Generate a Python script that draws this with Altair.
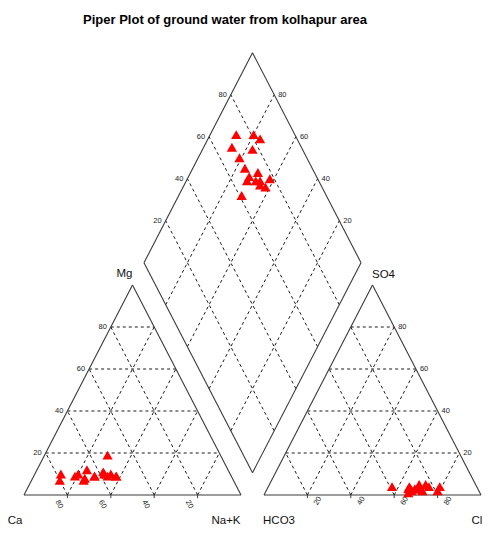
import altair as alt
import pandas as pd

# ---------------- data (percent of meq) ----------------
mg   = [10, 10, 7, 7, 12, 9, 8, 9, 11, 9, 9, 10, 10, 9, 19, 9]
nak  = [12, 20, 24, 13, 23, 19, 24, 28, 31, 38, 28, 32, 35, 38, 29, 34]
ca   = [100 - m - n for m, n in zip(mg, nak)]
so4  = [3, 2, 4, 3, 5, 2, 4, 3, 5, 4, 1, 3, 3, 2, 4, 3]
hco3 = [27, 19, 17, 32, 23, 31, 31, 31, 26, 22, 33, 29, 28, 26, 39, 27]
cl   = [100 - s - h for s, h in zip(so4, hco3)]

grid_levels = [20, 40, 60, 80]
title_text = "Piper Plot of ground water from kolhapur area"
corner_names = ["Ca", "Na+K", "Mg", "HCO3", "Cl", "SO4"]

# ---------------- geometry (unit side, unit height) ----------------
G = 0.106          # gap between the triangles
X0 = 1 + G         # left corner of anion triangle
W, H = 474, 520
PX_X, PX_Y = 217.0, 210.0
ORX, ORY = 24.0 - 8, 495.0 - 8   # position of unit origin inside plot area
xdom = [-ORX / PX_X, (W - ORX) / PX_X]
ydom = [(ORY - H) / PX_Y, ORY / PX_Y]

def seg(rows, a, b, kind):
    rows.append(dict(x=a[0], y=a[1], x2=b[0], y2=b[1], kind=kind))

segs = []
# outlines
for a, b in [((0, 0), (1, 0)), ((1, 0), (0.5, 1)), ((0.5, 1), (0, 0)),
             ((X0, 0), (X0 + 1, 0)), ((X0 + 1, 0), (X0 + 0.5, 1)), ((X0 + 0.5, 1), (X0, 0)),
             ((1 + G / 2, G), (1.5 + G / 2, 1 + G)), ((1.5 + G / 2, 1 + G), (1 + G / 2, 2 + G)),
             ((1 + G / 2, 2 + G), (0.5 + G / 2, 1 + G)), ((0.5 + G / 2, 1 + G), (1 + G / 2, G))]:
    seg(segs, a, b, "outline")

for lv in grid_levels:
    p = lv / 100
    # cation
    seg(segs, (p / 2, p), (1 - p / 2, p), "grid")
    seg(segs, (p, 0), ((1 + p) / 2, 1 - p), "grid")
    seg(segs, (1 - p, 0), ((1 - p) / 2, 1 - p), "grid")
    # anion
    seg(segs, (X0 + p / 2, p), (X0 + 1 - p / 2, p), "grid")
    seg(segs, (X0 + p, 0), (X0 + (1 + p) / 2, 1 - p), "grid")
    seg(segs, (X0 + 1 - p, 0), (X0 + (1 - p) / 2, 1 - p), "grid")
    # diamond
    ya, yb = 1 + G - p, 2 + G - p
    seg(segs, (p + 0.5 * ya, ya), (p + 0.5 * yb, yb), "grid")
    seg(segs, (1 + 0.5 * ya, ya), (0.5 * yb, yb), "grid")
    # base ticks
    seg(segs, (p, 0), (p, -0.015), "tick")
    seg(segs, (X0 + p, 0), (X0 + p, -0.015), "tick")

seg_df = pd.DataFrame(segs)

# points
pts = []
for i in range(len(mg)):
    pts.append(dict(x=nak[i] / 100 + mg[i] / 200, y=mg[i] / 100))
    pts.append(dict(x=X0 + cl[i] / 100 + so4[i] / 200, y=so4[i] / 100))
    yd = 2 + G - hco3[i] / 100 - nak[i] / 100
    pts.append(dict(x=nak[i] / 100 + 0.5 * yd, y=yd))
pts_df = pd.DataFrame(pts)

# tick labels
lab_left, lab_right, lab_bc, lab_ba = [], [], [], []
for lv in grid_levels:
    p = lv / 100
    lab_left.append(dict(x=p / 2, y=p, t=str(lv)))                    # Mg
    lab_right.append(dict(x=X0 + 1 - p / 2, y=p, t=str(lv)))          # SO4
    yd = 1 + G + p
    lab_left.append(dict(x=0.5 * yd, y=yd, t=str(lv)))                # SO4+Cl
    lab_right.append(dict(x=1 - p + 0.5 * yd, y=yd, t=str(lv)))       # Ca+Mg
    lab_bc.append(dict(x=1 - p, y=0, t=str(lv)))                      # Ca
    lab_ba.append(dict(x=X0 + p, y=0, t=str(lv)))                     # Cl
corner_pos = [(0, 0), (1, 0), (0.5, 1), (X0, 0), (X0 + 1, 0), (X0 + 0.5, 1)]
corner_dx = [-9, -15, -8, 15, -4, 11]
corner_dy = [29, 29, -8, 29, 29, -7]

xs = alt.Scale(domain=xdom, nice=False, zero=False)
ys = alt.Scale(domain=ydom, nice=False, zero=False)
X = alt.X("x:Q", scale=xs, axis=None)
Y = alt.Y("y:Q", scale=ys, axis=None)

FONT = "Liberation Sans"

outline = alt.Chart(seg_df).transform_filter("datum.kind == 'outline'").mark_rule(
    color="#3a3a3a", strokeWidth=1.1).encode(x=X, y=Y, x2="x2:Q", y2="y2:Q")
grid = alt.Chart(seg_df).transform_filter("datum.kind == 'grid'").mark_rule(
    color="#000000", strokeWidth=0.9, strokeDash=[3, 3]).encode(x=X, y=Y, x2="x2:Q", y2="y2:Q")
ticks = alt.Chart(seg_df).transform_filter("datum.kind == 'tick'").mark_rule(
    color="#111111", strokeWidth=0.8).encode(x=X, y=Y, x2="x2:Q", y2="y2:Q")

points = alt.Chart(pts_df).mark_point(
    shape="triangle-up", filled=True, color="#ff0000", opacity=1, size=105, strokeWidth=0
).encode(x=X, y=Y)

def txt(rows, **kw):
    base = dict(font=FONT, fontSize=7.5, color="#222222")
    base.update(kw)
    return alt.Chart(pd.DataFrame(rows)).mark_text(**base).encode(x=X, y=Y, text="t:N")

t_left = txt(lab_left, align="right", baseline="middle", dx=-4)
t_right = txt(lab_right, align="left", baseline="middle", dx=4)
t_bc = txt(lab_bc, align="center", baseline="middle", angle=60, dx=4, dy=12)
t_ba = txt(lab_ba, align="center", baseline="middle", angle=300, dx=0, dy=12)

corner_layers = []
for name, (cx, cy), ddx, ddy in zip(corner_names, corner_pos, corner_dx, corner_dy):
    corner_layers.append(
        alt.Chart(pd.DataFrame([dict(x=cx, y=cy, t=name)])).mark_text(
            font=FONT, fontSize=11.5, color="#111111", align="center",
            baseline="alphabetic", dx=ddx, dy=ddy).encode(x=X, y=Y, text="t:N"))

title = alt.Chart(pd.DataFrame([dict(t=title_text)])).mark_text(
    font=FONT, fontSize=13, fontWeight="bold", color="#000000",
    align="center", baseline="alphabetic").encode(
    x=alt.value(225 - 8), y=alt.value(24 - 8), text="t:N")

chart = alt.layer(grid, ticks, outline, t_left, t_right, t_bc, t_ba, *corner_layers,
                  title, points).properties(
    width=W, height=H, autosize=alt.AutoSizeParams(type="none"), padding=0
).configure_view(stroke=None)

chart.save("out.html", embed_options={"renderer": "svg", "actions": False})
